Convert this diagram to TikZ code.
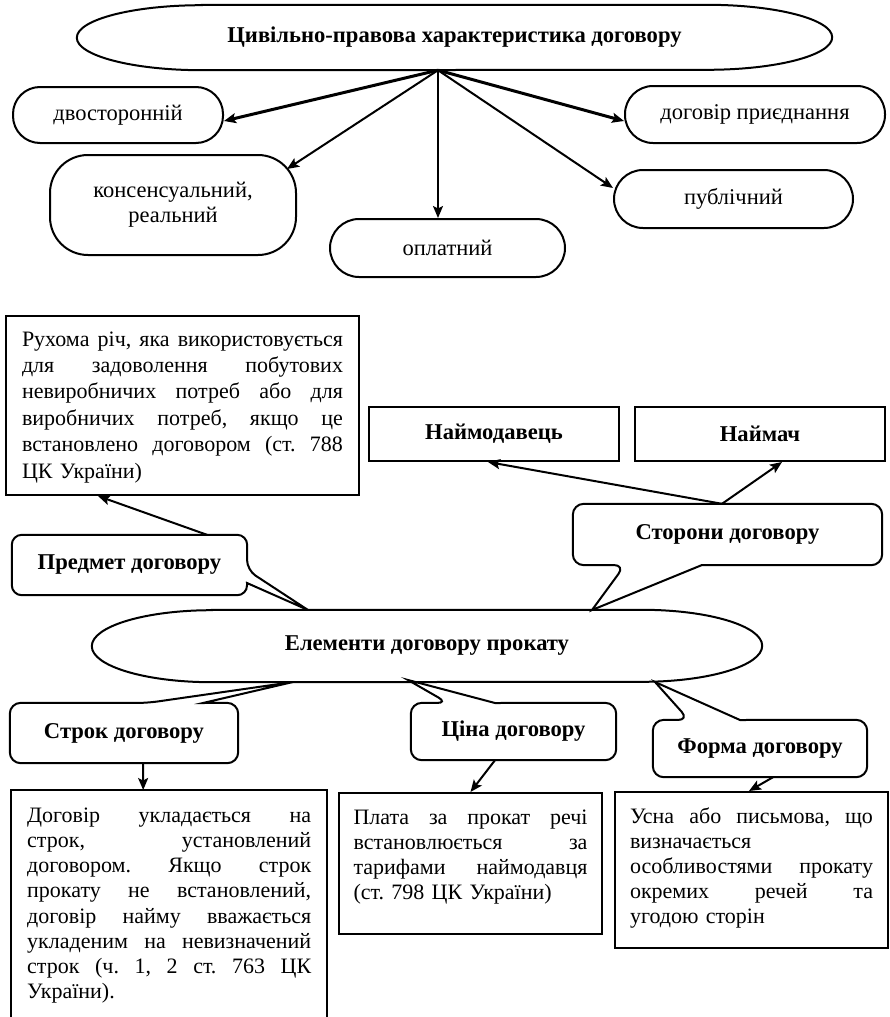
\documentclass[tikz,border=0pt]{standalone}
\usepackage{fontspec}
\setmainfont{Liberation Serif}
\usetikzlibrary{arrows.meta}
\frenchspacing
\newcommand\jl[1]{\leavevmode\hbox to \hsize{\spaceskip=0pt\xspaceskip=0pt\relax #1}}
\begin{document}
\begin{tikzpicture}[x=1pt,y=-1pt,
  bd/.style={line width=2pt},
  txt/.style={font=\fontsize{22}{25.2}\selectfont},
  ltxt/.style={font=\fontsize{22.5}{25.2}\selectfont},
  btxt/.style={font=\bfseries\fontsize{22.6}{25.2}\selectfont},
  pill/.style={draw, bd, ltxt, rectangle, rounded corners=#1, inner sep=0pt, align=center},
  capshape/.style={btxt, inner sep=0pt},
  plainbox/.style={draw, bd, btxt, inner sep=0pt},
  callout/.style={btxt, inner sep=0pt},
  textbox/.style={txt, align=left, inner ysep=0pt, anchor=north west},
  arr/.style={bd, -{Stealth[length=12pt,width=10pt,inset=2.5pt]}},
  tarr/.style={line width=3pt, -{Stealth[length=12pt,width=10pt,inset=2.5pt]}},
  cshape/.style={bd, line join=miter},
]
\fill[white] (0,0) rectangle (889,1017);
\useasboundingbox (0,0) rectangle (889,1017);

% ---------- top part ----------
\node[capshape, minimum width=755pt, minimum height=65pt] (top) at (454.5,37.5) {Цивільно-правова характеристика договору};
\draw[bd] ([xshift=125pt]top.north west) -- ([xshift=-125pt]top.north east)
  arc[start angle=-90, end angle=90, x radius=125, y radius=32.5]
  -- ([xshift=125pt]top.south west)
  arc[start angle=90, end angle=270, x radius=125, y radius=32.5] -- cycle;

\node[pill=27pt, minimum width=210pt, minimum height=56pt] (dvo) at (118,115) {двосторонній};
\node[pill=38pt, minimum width=246pt, minimum height=100pt] (kons) at (173,205) {консенсуальний,\\реальний};
\node[pill=29pt, minimum width=235pt, minimum height=58pt] (opl) at (447.5,248) {оплатний};
\node[pill=28pt, minimum width=260pt, minimum height=57pt] (dog) at (755,114.5) {договір приєднання};
\node[pill=29pt, minimum width=239pt, minimum height=58pt] (pub) at (733.5,199) {публічний};

\coordinate (apex) at ([xshift=-16.5pt]top.south);
\draw[tarr] (apex) -- ([yshift=-6pt]dvo.east);
\draw[arr] (apex) -- ([shift={(-10pt,-15pt)}]kons.north east);
\draw[arr] (apex) -- ([xshift=-9.5pt]opl.north);
\draw[tarr] (apex) -- ([yshift=-6.5pt]dog.west);
\draw[arr] (apex) -- ([yshift=11pt]pub.west);

% ---------- middle part ----------
\node[textbox, draw, bd, font=\fontsize{22}{26.4}\selectfont, text width=321pt, inner xsep=16pt, text height=30pt, text depth=149pt] (ruh) at (5,315)
 {\jl{Рухома річ, яка використовується}\\
  \jl{для задоволення побутових}\\
  \jl{невиробничих потреб або для}\\
  \jl{виробничих потреб, якщо це}\\
  \jl{встановлено договором (ст. 788}\\
  ЦК України)};

\node[plainbox, minimum width=250pt, minimum height=54pt] (nay) at (494,434) {Наймодавець};
\node[plainbox, minimum width=250pt, minimum height=54pt] (naym) at (760,434) {Наймач};

\node[callout, minimum width=309pt, minimum height=61pt] (stor) at (727.5,534.5) {Сторони договору};
\node[callout, minimum width=235pt, minimum height=60pt] (pred) at (129.5,565) {Предмет договору};

\node[capshape, minimum width=670pt, minimum height=72pt] (el) at (427,646) {Елементи договору прокату};
\draw[bd] ([xshift=120pt]el.north west) -- ([xshift=-120pt]el.north east)
  arc[start angle=-90, end angle=90, x radius=120, y radius=36]
  -- ([xshift=120pt]el.south west)
  arc[start angle=90, end angle=270, x radius=120, y radius=36] -- cycle;

% callout outlines with pointers
\coordinate (storB1) at (625,565); \coordinate (storB2) at (702,565); \coordinate (storT) at (592,610);
\draw[cshape] (storB2) [rounded corners=11pt] -- (stor.south east) -- (stor.north east) -- (stor.north west) -- (stor.south west) -- (storB1) [sharp corners] -- (storT) -- cycle;

\coordinate (predB1) at (247,570); \coordinate (predB2) at (247,583); \coordinate (predT) at (308,610);
\draw[cshape] (predB2) [rounded corners=10pt] -- (pred.south east) -- (pred.south west) -- (pred.north west) -- (pred.north east) -- (predB1) [sharp corners] -- (predT) -- cycle;

\draw[arr] ([xshift=77.5pt]pred.north) -- ([xshift=-84.5pt]ruh.south);
\draw[arr] ([xshift=-5.5pt]stor.north) -- ([xshift=-6pt]nay.south);
\draw[arr] ([xshift=-5.5pt]stor.north) -- ([xshift=22pt]naym.south);

% ---------- bottom part ----------
\node[callout, minimum width=228pt, minimum height=60pt] (strok) at (124,733) {Строк договору};
\node[callout, minimum width=205pt, minimum height=57pt] (tsina) at (513.5,731.5) {Ціна договору};
\node[callout, minimum width=214pt, minimum height=57pt] (forma) at (760,748.5) {Форма договору};

\coordinate (strokB1) at (147,703); \coordinate (strokB2) at (203,703); \coordinate (strokT) at (293,682);
\draw[cshape] (strokB2) [rounded corners=11pt] -- (strok.north east) -- (strok.south east) -- (strok.south west) -- (strok.north west) -- (strokB1) [sharp corners] -- (strokT) -- cycle;

\coordinate (tsinaB1) at (448,703); \coordinate (tsinaB2) at (495,703); \coordinate (tsinaT) at (408,680);
\draw[cshape] (tsinaB2) [rounded corners=11pt] -- (tsina.north east) -- (tsina.south east) -- (tsina.south west) -- (tsina.north west) -- (tsinaB1) [sharp corners] -- (tsinaT) -- cycle;

\coordinate (formaB1) at (689,720); \coordinate (formaB2) at (740,720); \coordinate (formaT) at (655,682);
\draw[cshape] (formaB2) [rounded corners=11pt] -- (forma.north east) -- (forma.south east) -- (forma.south west) -- (forma.north west) -- (formaB1) [sharp corners] -- (formaT) -- cycle;

\node[textbox, text width=284pt, inner xsep=16pt, text height=32pt, text depth=240pt] (lb) at (11,790)
 {\jl{Договір укладається на}\\
  \jl{строк, установлений}\\
  \jl{договором. Якщо строк}\\
  \jl{прокату не встановлений,}\\
  \jl{договір найму вважається}\\
  \jl{укладеним на невизначений}\\
  \jl{строк (ч. 1, 2 ст. 763 ЦК}\\
  України).};
\coordinate (pagebottom) at (0,1030);
\draw[bd] (lb.north west |- pagebottom) -- (lb.north west) -- (lb.north east) -- (lb.north east |- pagebottom);

\node[textbox, draw, bd, text width=234pt, inner xsep=14.5pt, text height=31pt, text depth=110pt] (mb) at (338,792)
 {\jl{Плата за прокат речі}\\
  \jl{встановлюється за}\\
  \jl{тарифами наймодавця}\\
  (ст. 798 ЦК України)};

\node[textbox, draw, bd, text width=243pt, inner xsep=15pt, text height=31pt, text depth=125pt] (rb) at (614,791)
 {\jl{Усна або письмова, що}\\
  визначається\\
  \jl{особливостями прокату}\\
  \jl{окремих речей та}\\
  угодою сторін};

\draw[arr] ([xshift=19pt]strok.south) -- ([xshift=-26pt]lb.north);
\draw[arr] ([xshift=-18.5pt]tsina.south) -- (mb.north);
\draw[arr] ([xshift=13pt]forma.south) -- ([xshift=-2.5pt]rb.north);
\end{tikzpicture}
\end{document}
